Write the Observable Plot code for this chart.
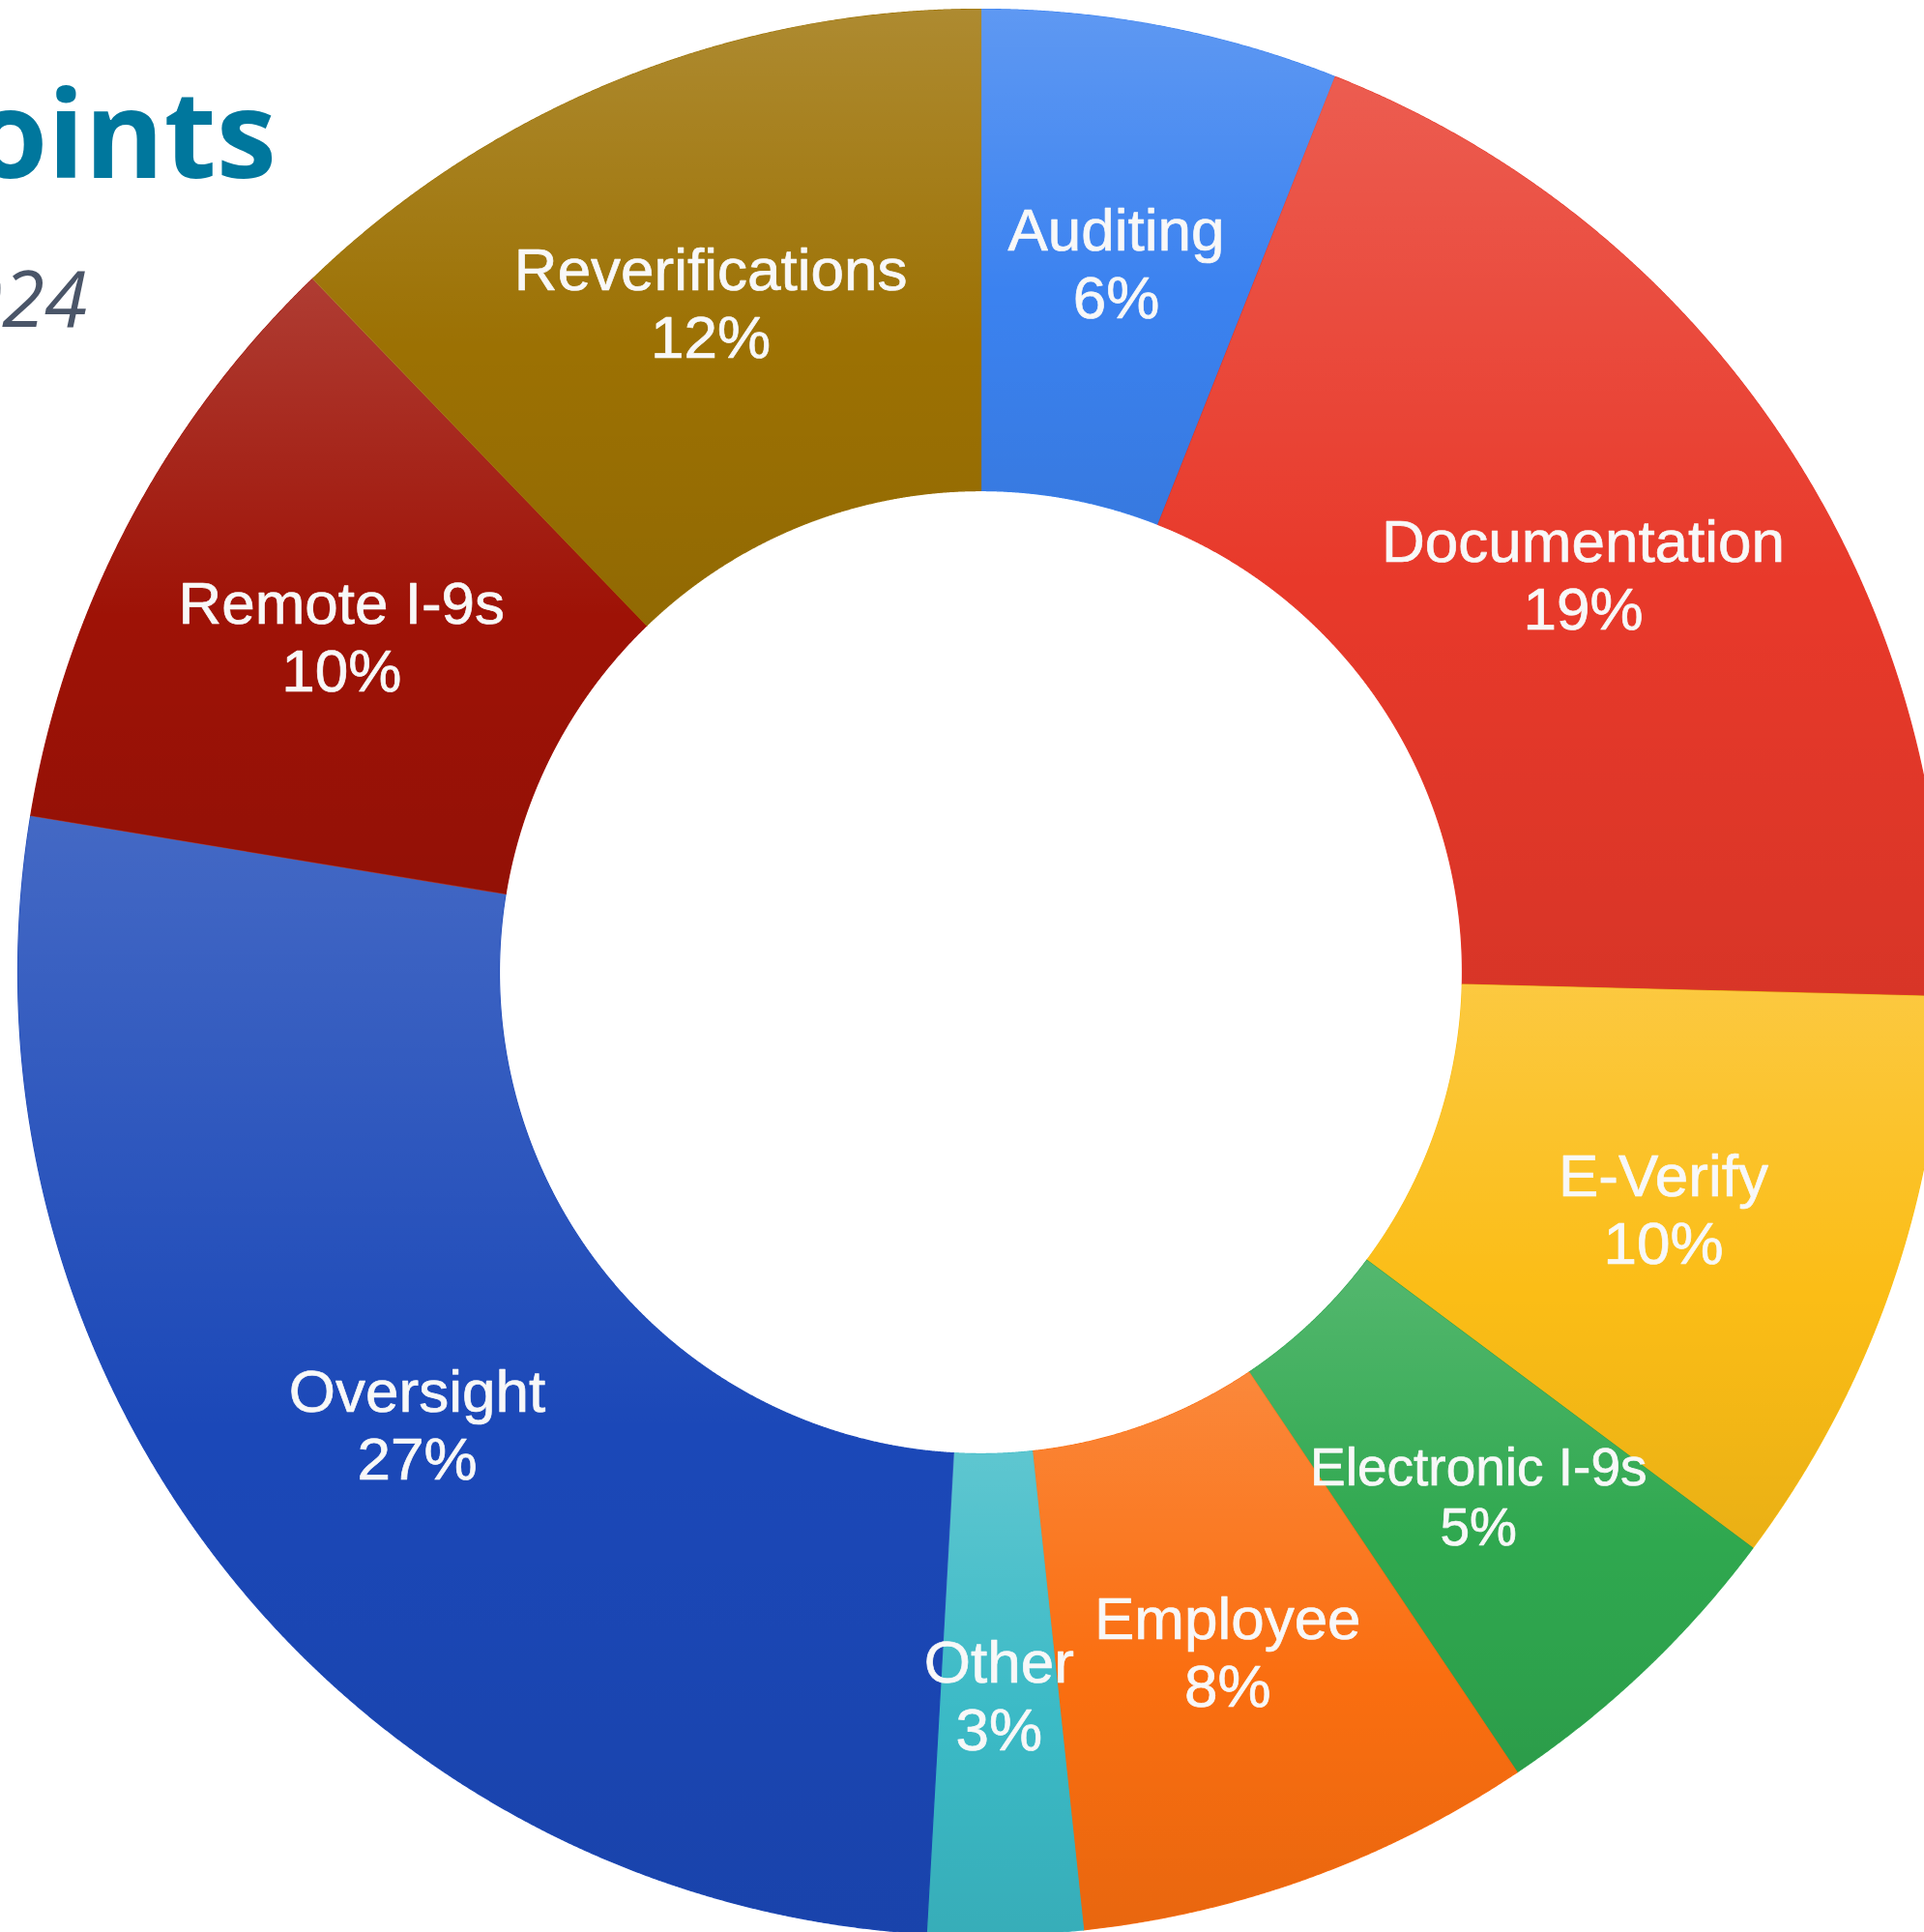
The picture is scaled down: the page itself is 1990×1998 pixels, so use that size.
<!DOCTYPE html>
<html>
<head>
<meta charset="utf-8">
<script src="https://cdn.jsdelivr.net/npm/d3@7"></script>
<script src="https://cdn.jsdelivr.net/npm/@observablehq/plot@0.6"></script>
<style>
  html, body { margin: 0; padding: 0; background: #ffffff; overflow: hidden; }
  #page { position: relative; width: 1990px; height: 1998px; overflow: hidden; background: #ffffff; }
  #chart { position: absolute; left: 0; top: 0; }
  #chart svg { display: block; max-width: none; }
  .title {
    position: absolute; left: -1000px; width: 1286px; top: 73px; text-align: right;
    font-family: "Open Sans", sans-serif; font-weight: 700; font-size: 125px; line-height: 1;
    color: #00779d; white-space: nowrap; z-index: 2;
  }
  .subtitle {
    position: absolute; left: -1000px; width: 1090px; top: 267px; text-align: right;
    font-family: "Open Sans", sans-serif; font-style: italic; font-weight: 400; font-size: 80px; line-height: 1;
    color: #4a5568; white-space: nowrap; z-index: 2;
  }
</style>
</head>
<body>
<svg width="0" height="0" style="position:absolute">
  <defs>
    <linearGradient id="shine" x1="0" y1="0" x2="0" y2="1">
      <stop offset="0" stop-color="#ffffff" stop-opacity="0.18"></stop>
      <stop offset="0.55" stop-color="#ffffff" stop-opacity="0"></stop>
      <stop offset="0.55" stop-color="#000000" stop-opacity="0"></stop>
      <stop offset="1" stop-color="#000000" stop-opacity="0.07"></stop>
    </linearGradient>
  </defs>
</svg>
<div id="page">
  <div id="chart"></div>
  <div class="title">Pain Points</div>
  <div class="subtitle">2024</div>
</div>
<script>
// ---- data ----
const categories = ["Auditing", "Documentation", "E-Verify", "Electronic I-9s", "Employee", "Other", "Oversight", "Remote I-9s", "Reverifications"];
const shares = [6.0, 19.4, 9.8, 5.4, 7.7, 2.6, 26.7, 10.2, 12.2];
const percentLabels = ["6%", "19%", "10%", "5%", "8%", "3%", "27%", "10%", "12%"];
const sliceColors = ["#3b82f0", "#e8392a", "#fbbd16", "#2fa84f", "#fa6e10", "#3bbac6", "#1b48b8", "#9e1206", "#9c7103"];

// ---- layout ----
const W = 1990, H = 1998;
const cx = 1014, cy = 1005, R = 996;   // donut centre and outer radius in pixels
const outerR = 1, innerR = 0.5, labelR = 0.75;

const arcs = d3.pie().sort(null).value(i => shares[i])(categories.map((_, i) => i));

const ringPoints = [];
for (const a of arcs) {
  const cat = categories[a.data];
  const n = Math.max(8, Math.ceil((a.endAngle - a.startAngle) / 0.002));
  const pts = [];
  for (let k = 0; k <= n; k++) {
    const t = a.startAngle + (a.endAngle - a.startAngle) * k / n;
    pts.push({cat, x: Math.sin(t) * outerR, y: Math.cos(t) * outerR});
  }
  for (let k = n; k >= 0; k--) {
    const t = a.startAngle + (a.endAngle - a.startAngle) * k / n;
    pts.push({cat, x: Math.sin(t) * innerR, y: Math.cos(t) * innerR});
  }
  pts.push({...pts[0]});
  ringPoints.push(...pts);
}

const labels = arcs.map(a => {
  const m = (a.startAngle + a.endAngle) / 2;
  return {
    cat: categories[a.data],
    text: categories[a.data] + "\n" + percentLabels[a.data],
    x: Math.sin(m) * labelR,
    y: Math.cos(m) * labelR
  };
});

const chart = Plot.plot({
  width: W,
  height: H,
  margin: 0,
  style: {background: "transparent", overflow: "hidden"},
  x: {domain: [-cx / R, (W - cx) / R], axis: null},
  y: {domain: [-(H - cy) / R, cy / R], axis: null},
  color: {domain: categories, range: sliceColors},
  marks: [
    Plot.line(ringPoints, {x: "x", y: "y", z: "cat", fill: "cat", stroke: "cat", strokeWidth: 1.2, curve: "linear"}),
    Plot.line(ringPoints, {x: "x", y: "y", z: "cat", fill: "url(#shine)", stroke: "none", curve: "linear"}),
    Plot.text(labels, {
      x: "x", y: "y", text: "text",
      fill: "#f8f8f8",
      stroke: "#f8f8f8",
      strokeWidth: 0.7,
      fontFamily: "'Liberation Sans', Arial, sans-serif",
      fontSize: d => d.cat === "Electronic I-9s" ? 55 : 62,
      lineHeight: 1.13,
      lineAnchor: "middle",
      textAnchor: "middle"
    })
  ]
});
document.getElementById("chart").appendChild(chart);
</script>
</body>
</html>
